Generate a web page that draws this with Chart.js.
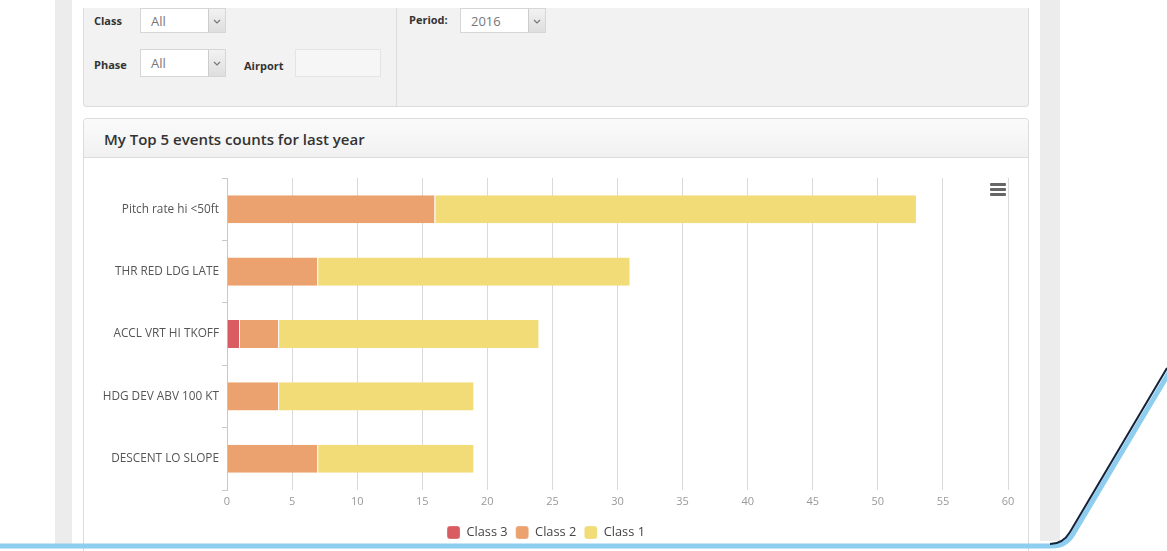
<!DOCTYPE html>
<html>
<head>
<meta charset="utf-8">
<script src="https://cdn.jsdelivr.net/npm/chart.js@4/dist/chart.umd.min.js"></script>
<style>
  html, body { margin: 0; padding: 0; background: #fff; }
  body { width: 1167px; height: 551px; position: relative; overflow: hidden; font-family: "Open Sans", sans-serif; }
  .abs { position: absolute; }
  .strip { background: #ececec; top: 0; height: 546px; }
  .filters { left: 83px; top: 8px; width: 944px; height: 98px; background: #f2f2f2;
             border: 1px solid #dcdcdc; border-top: none; border-radius: 0 0 4px 4px; }
  .divider { left: 396px; top: 8px; width: 1px; height: 99px; background: #dcdcdc; }
  .lbl { font-size: 11px; font-weight: 700; color: #333; line-height: 14px; }
  .sel { background: #fff; border: 1px solid #d6d6d6; box-sizing: border-box; }
  .sel span { position: absolute; left: 10px; top: 3px; font-size: 13px; color: #777; }
  .sel .btn { position: absolute; right: 0; top: 0; bottom: 0; width: 16px; border-left: 1px solid #ccc;
              background: linear-gradient(#f2f2f2, #dedede); }
  .sel .btn svg { position: absolute; left: 4px; top: 50%; margin-top: -4px; }
  .panel { left: 83px; top: 118px; width: 944px; height: 440px; background: #fff;
           border: 1px solid #dcdcdc; border-radius: 4px; }
  .head { left: 84px; top: 119px; width: 944px; height: 38px; border-bottom: 1px solid #dcdcdc;
          background: linear-gradient(#fbfbfb, #f1f1f1); border-radius: 4px 4px 0 0; }
  .title { left: 104px; top: 129px; font-size: 15px; font-weight: 600; color: #333; line-height: 20px; }
  .chartbox { left: 84px; top: 158px; width: 944px; height: 392px; }
  .menu { left: 990px; top: 183px; width: 16px; }
  .menu div { height: 3px; background: #666; border-radius: 1px; margin-bottom: 2px; }
  svg.deco { position: absolute; left: 0; top: 0; z-index: 5; }
</style>
</head>
<body>
<div class="abs strip" style="left:55px;width:17px"></div>
<div class="abs strip" style="left:1040px;width:20px;height:541px"></div>

<div class="abs filters"></div>
<div class="abs divider"></div>

<div class="abs lbl" style="left:94px;top:14px">Class</div>
<div class="abs sel" style="left:140px;top:8px;width:86px;height:25px"><span>All</span>
  <div class="btn"><svg width="8" height="8"><path d="M1 3 L4 6 L7 3" fill="none" stroke="#777" stroke-width="1.2"/></svg></div></div>

<div class="abs lbl" style="left:94px;top:58px">Phase</div>
<div class="abs sel" style="left:140px;top:49px;width:86px;height:28px"><span style="top:4px">All</span>
  <div class="btn"><svg width="8" height="8"><path d="M1 3 L4 6 L7 3" fill="none" stroke="#777" stroke-width="1.2"/></svg></div></div>

<div class="abs lbl" style="left:244px;top:59px">Airport</div>
<div class="abs" style="left:295px;top:49px;width:86px;height:28px;background:#f6f6f6;border:1px solid #e4e4e4;box-sizing:border-box"></div>

<div class="abs lbl" style="left:409px;top:13px">Period:</div>
<div class="abs sel" style="left:460px;top:8px;width:86px;height:25px"><span>2016</span>
  <div class="btn"><svg width="8" height="8"><path d="M1 3 L4 6 L7 3" fill="none" stroke="#777" stroke-width="1.2"/></svg></div></div>

<div class="abs panel"></div>
<div class="abs head"></div>
<div class="abs title">My Top 5 events counts for last year</div>

<div class="abs chartbox"><canvas id="topEvents"></canvas></div>
<div class="abs menu"><div></div><div></div><div></div></div>

<svg class="deco" width="1167" height="551">
  <path d="M0 546 L1052 546 Q1066 546 1073 534 L1170 371" fill="none" stroke="#8dcdf0" stroke-width="5"/>
  <path d="M1050 544 Q1063 544 1070 532 L1167 368" fill="none" stroke="#14223a" stroke-width="2"/>
</svg>

<script>
// event names (y axis)
const categories = ['Pitch rate hi <50ft', 'THR RED LDG LATE', 'ACCL VRT HI TKOFF', 'HDG DEV ABV 100 KT', 'DESCENT LO SLOPE'];

// counts per class
const class3 = [0, 0, 1, 0, 0];
const class2 = [16, 7, 3, 4, 7];
const class1 = [37, 24, 20, 15, 12];

const seriesNames = ['Class 3', 'Class 2', 'Class 1'];
const seriesColors = ['#d95c62', '#eca26e', '#f1dc78'];

// x axis range
const xMin = 0;
const xMax = 60;
const xStep = 5;

const font = 'Open Sans';

const ctx = document.getElementById('topEvents').getContext('2d');
const topEventsChart = new Chart(ctx, {
	type: 'bar',
	data: {
		labels: categories,
		datasets: [class3, class2, class1].map((vals, i) => ({
			label: seriesNames[i],
			data: vals,
			backgroundColor: seriesColors[i],
			borderColor: '#ffffff',
			borderWidth: { left: 0, right: 1, top: 0, bottom: 0 },
			borderSkipped: false,
			categoryPercentage: 1,
			barPercentage: 0.45,
		})),
	},
	options: {
		indexAxis: 'y',
		responsive: true,
		maintainAspectRatio: false,
		animation: false,
		layout: { padding: { left: 0, right: 20, top: 20, bottom: 1 } },
		plugins: {
			tooltip: { enabled: false },
			legend: {
				position: 'bottom',
				labels: {
					boxWidth: 13,
					boxHeight: 13,
					padding: 8,
					useBorderRadius: true,
					borderRadius: 3,
					color: '#444',
					font: { family: font, size: 12.8 },
				},
			},
		},
		scales: {
			x: {
				stacked: true,
				min: xMin,
				max: xMax,
				ticks: { stepSize: xStep, color: '#999', padding: 5, font: { family: font, size: 11 } },
				grid: { color: '#d9d9d9', drawTicks: false },
				border: { display: false },
				afterFit: (s) => { s.height = 28; },
			},
			y: {
				stacked: true,
				ticks: { color: '#555', padding: 3, font: { family: font, size: 11.8 } },
				grid: { drawOnChartArea: false, drawTicks: true, tickLength: 5, color: '#c8c8c8', offset: true },
				border: { color: '#c8c8c8' },
				afterFit: (s) => { s.width = 143; },
			},
		},
	},
});
</script>
</body>
</html>
